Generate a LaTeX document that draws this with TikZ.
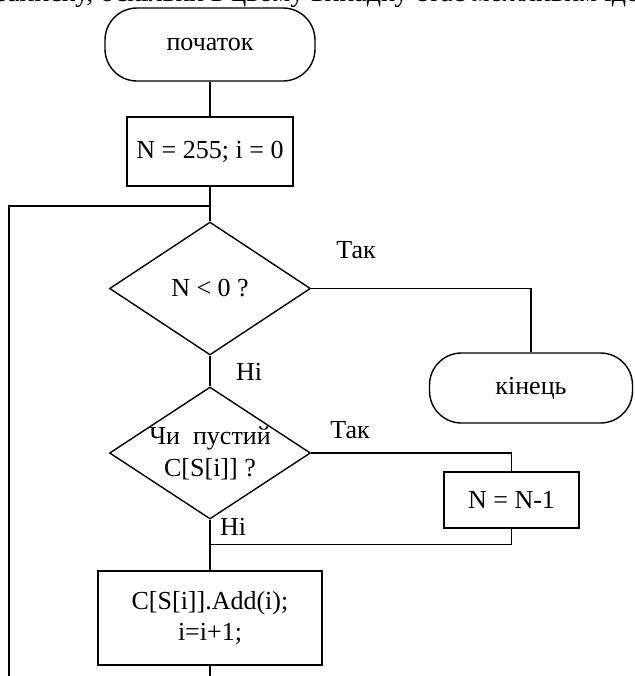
\documentclass[tikz,border=0pt]{standalone}
\usepackage{fontspec}
\setmainfont{Liberation Serif}
\usetikzlibrary{shapes.geometric}
\begin{document}
\begin{tikzpicture}[x=0.5pt,y=-0.5pt,
  every node/.style={font=\fontsize{13}{15.5}\selectfont},
  line/.style={line width=0.7pt},
  term/.style={draw, line width=0.7pt, rounded corners=16pt, minimum width=105pt, minimum height=36.5pt, inner sep=0pt},
  proc/.style={draw, line width=0.7pt, inner sep=0pt, align=center},
  dec/.style={draw, diamond, line width=0.7pt, inner sep=0pt, minimum width=100.5pt, minimum height=66.5pt},
  lbl/.style={inner sep=0pt}
]
\useasboundingbox (0,0) rectangle (634,676);
\begin{scope}
\clip (0,0) rectangle (634,676);
\node[lbl, anchor=base west, font=\fontsize{14}{16}\selectfont] (toptext) at (-4,1) {записку, оскільки в цьому випадку стає можливим ідо};
\end{scope}

\node[term] (start) at (210,44.5) {початок};
\node[proc, minimum width=83pt, minimum height=34.5pt] (init) at (210,151.5) {N = 255; i = 0};
\coordinate (j1) at (210,206);
\node[dec] (d1) at (210,288.5) {N < 0 ?};
\node[lbl] (yes1) at (356,250) {Так};
\node[term, minimum width=101.5pt, minimum height=35pt] (end) at (531,388) {кінець};
\node[lbl] (no1) at (249,372) {Ні};
\node[dec, minimum height=66pt] (d2) at (210,453) {};
\node[lbl, align=center, font=\fontsize{13}{16}\selectfont] (d2t) at (d2) {Чи\ \ пустий\\C[S[i]] ?};
\node[lbl] (yes2) at (350,430) {Так};
\node[proc, minimum width=67.5pt, minimum height=28pt] (dec1) at (511.5,500) {N = N-1};
\node[lbl] (no2) at (233,527) {Ні};
\coordinate (j2) at (210,544.5);
\node[proc, minimum width=112pt, minimum height=47pt] (body) at (210,618) {C[S[i]].Add(i);\\i=i+1;};
\coordinate (out) at (210,676);
\coordinate (loopc) at (9,206);
\coordinate (loopb) at (9,676);

\draw[line] (start) -- (init);
\draw[line] (init) -- (d1);
\draw[line] (j1) -- (loopc) -- (loopb);
\draw[line] (d1.east) -| (end.north);
\draw[line] (d1) -- (d2);
\draw[line] (d2.east) -| (dec1.north);
\draw[line] (d2) -- (body);
\draw[line] (dec1.south) |- (j2);
\draw[line] (body) -- (out);
\end{tikzpicture}
\end{document}
